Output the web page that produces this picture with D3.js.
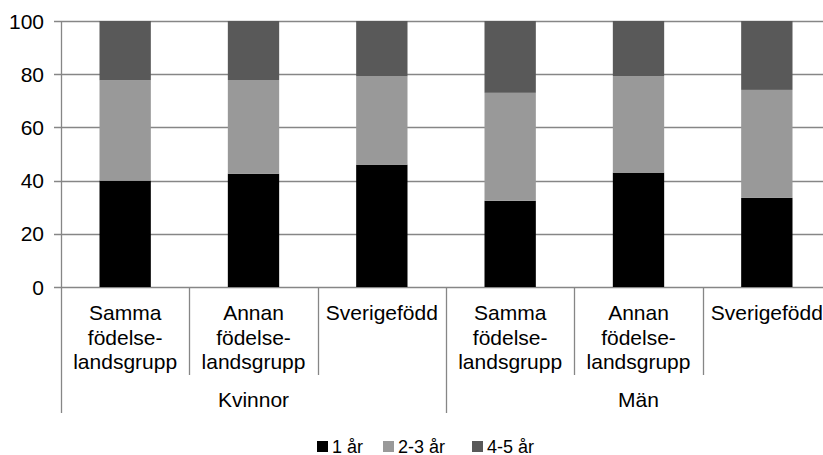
<!DOCTYPE html>
<html>
<head>
<meta charset="utf-8">
<script src="https://cdn.jsdelivr.net/npm/d3@7"></script>
<style>
  body { margin: 0; background: #fff; }
  svg { display: block; font-family: "Liberation Sans", Arial, sans-serif; }
  .axis-text { fill: #000; }
</style>
</head>
<body>
<svg id="chart" width="823" height="455"></svg>
<script>
'use strict';

// data
var groups = ['Kvinnor', 'Män'];
var categories = [
  ['Samma', 'födelse-', 'landsgrupp'],
  ['Annan', 'födelse-', 'landsgrupp'],
  ['Sverigefödd'],
  ['Samma', 'födelse-', 'landsgrupp'],
  ['Annan', 'födelse-', 'landsgrupp'],
  ['Sverigefödd']
];
var seriesNames = ['1 år', '2-3 år', '4-5 år'];
var ar1 = [40.0, 42.6, 46.0, 32.4, 43.0, 33.5];
var ar23 = [37.7, 35.2, 33.2, 40.6, 36.3, 40.6];
var ar45 = [22.3, 22.2, 20.8, 27.0, 20.7, 25.9];
var yTicks = [0, 20, 40, 60, 80, 100];
var colors = ['#000000', '#999999', '#595959'];

var svg = d3.select('#chart');
var margin = { left: 61, top: 21, bottom: 287 };
var plotRight = 831;
var gridColor = '#868686';

// table for stack
var rows = categories.map(function(c, i) {
  return { idx: i, '1 år': ar1[i], '2-3 år': ar23[i], '4-5 år': ar45[i] };
});
var stacked = d3.stack().keys(seriesNames)(rows);

var x = d3.scaleBand()
    .domain(d3.range(categories.length))
    .range([margin.left, plotRight])
    .paddingInner(0.6)
    .paddingOuter(0.3);
var step = x.step();

var y = d3.scaleLinear()
    .domain([0, 100])
    .range([margin.bottom, margin.top]);

// gridlines
svg.append('g')
    .selectAll('line')
    .data(yTicks)
    .enter()
    .append('line')
    .attr('x1', margin.left - 7)
    .attr('x2', plotRight)
    .attr('y1', function(d) { return Math.round(y(d)) + 0.5; })
    .attr('y2', function(d) { return Math.round(y(d)) + 0.5; })
    .attr('stroke', gridColor)
    .attr('stroke-width', 1.3);

// y labels
svg.append('g')
    .selectAll('text')
    .data(yTicks)
    .enter()
    .append('text')
    .attr('class', 'axis-text')
    .attr('x', 44)
    .attr('y', function(d) { return y(d) + 7.5; })
    .attr('text-anchor', 'end')
    .style('font-size', '21px')
    .text(function(d) { return d; });

// bars
svg.append('g')
    .selectAll('g')
    .data(stacked)
    .enter()
    .append('g')
    .attr('fill', function(d, i) { return colors[i]; })
    .selectAll('rect')
    .data(function(d) { return d; })
    .enter()
    .append('rect')
    .attr('x', function(d) { return x(d.data.idx); })
    .attr('width', x.bandwidth())
    .attr('y', function(d) { return y(d[1]); })
    .attr('height', function(d) { return y(d[0]) - y(d[1]); });

// y axis line
svg.append('line')
    .attr('x1', margin.left + 0.5)
    .attr('x2', margin.left + 0.5)
    .attr('y1', margin.top)
    .attr('y2', margin.bottom + 1)
    .attr('stroke', gridColor)
    .attr('stroke-width', 1.3);

// x axis: category dividers
var xLeftEdge = function(i) { return margin.left + i * step; };
svg.append('g')
    .selectAll('line')
    .data(d3.range(categories.length + 1))
    .enter()
    .append('line')
    .attr('x1', function(d) { return Math.round(xLeftEdge(d)) + 0.5; })
    .attr('x2', function(d) { return Math.round(xLeftEdge(d)) + 0.5; })
    .attr('y1', margin.bottom)
    .attr('y2', function(d) { return d % 3 === 0 ? 413 : 375; })
    .attr('stroke', gridColor)
    .attr('stroke-width', 1.3);

// category labels
var catText = svg.append('g')
    .selectAll('text')
    .data(categories)
    .enter()
    .append('text')
    .attr('class', 'axis-text')
    .attr('text-anchor', 'middle')
    .style('font-size', '21px');
catText.selectAll('tspan')
    .data(function(d, i) { return d.map(function(t) { return { t: t, i: i }; }); })
    .enter()
    .append('tspan')
    .attr('x', function(d) { return x(d.i) + x.bandwidth() / 2; })
    .attr('y', function(d, j) { return 320 + j * 24.5; })
    .text(function(d) { return d.t; });

// group labels
svg.append('g')
    .selectAll('text')
    .data(groups)
    .enter()
    .append('text')
    .attr('class', 'axis-text')
    .attr('text-anchor', 'middle')
    .attr('x', function(d, i) { return xLeftEdge(i * 3) + step * 1.5; })
    .attr('y', 407)
    .style('font-size', '21px')
    .text(function(d) { return d; });

// legend
var legendX = [317, 383, 472];
var legend = svg.append('g')
    .selectAll('g')
    .data(seriesNames)
    .enter()
    .append('g')
    .attr('transform', function(d, i) { return 'translate(' + legendX[i] + ',441)'; });
legend.append('rect')
    .attr('width', 11)
    .attr('height', 11)
    .attr('fill', function(d, i) { return colors[i]; });
legend.append('text')
    .attr('x', 15)
    .attr('y', 11.5)
    .style('font-size', '18px')
    .text(function(d) { return d; });
</script>
</body>
</html>
